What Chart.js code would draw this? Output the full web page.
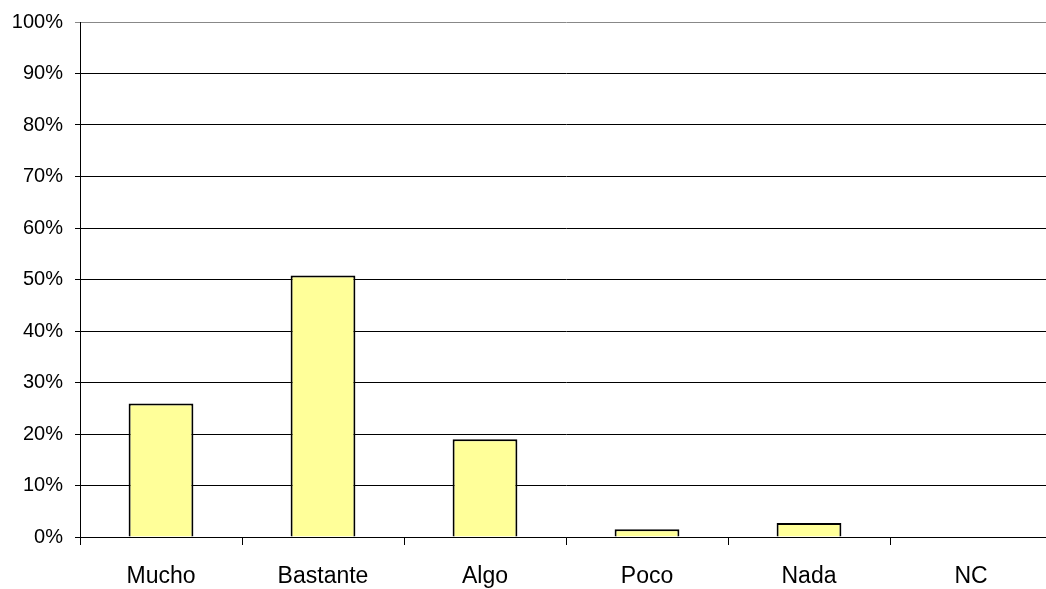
<!DOCTYPE html>
<html><head><meta charset="utf-8">
<script src="https://cdn.jsdelivr.net/npm/chart.js@4/dist/chart.umd.min.js"></script>
<style>html,body{margin:0;padding:0;background:#fff;overflow:hidden;width:1046px;height:589px}#wrap{width:1052px;height:589px;position:relative}</style>
</head><body><div id="wrap"><canvas id="c"></canvas></div>
<script>
const categories = ["Mucho","Bastante","Algo","Poco","Nada","NC"];
const values = [25.9, 50.8, 19.0, 1.5, 2.7, 0];
const yTicks = [0,10,20,30,40,50,60,70,80,90,100];

new Chart(document.getElementById('c'), {
  type: 'bar',
  data: { labels: categories, datasets: [{ data: values, backgroundColor: '#FFFF99', borderColor: '#000', borderWidth: 2, barPercentage: 0.4, categoryPercentage: 1 }] },
  options: {
    responsive: true, maintainAspectRatio: false, animation: false,
    layout: { padding: { top: 21, left: 0, right: 0, bottom: 0 } },
    plugins: { legend: { display: false }, tooltip: { enabled: false } },
    scales: {
      x: {
        grid: { offset: true, drawOnChartArea: false, color: '#000', tickLength: 8 },
        border: { color: '#000', width: 1 },
        ticks: { color: '#000', font: { family: 'Liberation Sans, Arial', size: 23 }, padding: 18 },
        afterFit: s => { s.height = 52; }
      },
      y: {
        min: 0, max: 100,
        afterBuildTicks: s => { s.ticks = yTicks.map(v => ({ value: v })); },
        grid: { color: ctx => ctx.tick && ctx.tick.value === 100 ? '#888' : '#000', tickLength: 5 },
        border: { color: '#000', width: 1 },
        ticks: { color: '#000', font: { family: 'Liberation Sans, Arial', size: 20, lineHeight: 1 }, padding: 12, callback: v => v + '%' },
        afterFit: s => { s.width = 80; }
      }
    }
  }
});
</script></body></html>
